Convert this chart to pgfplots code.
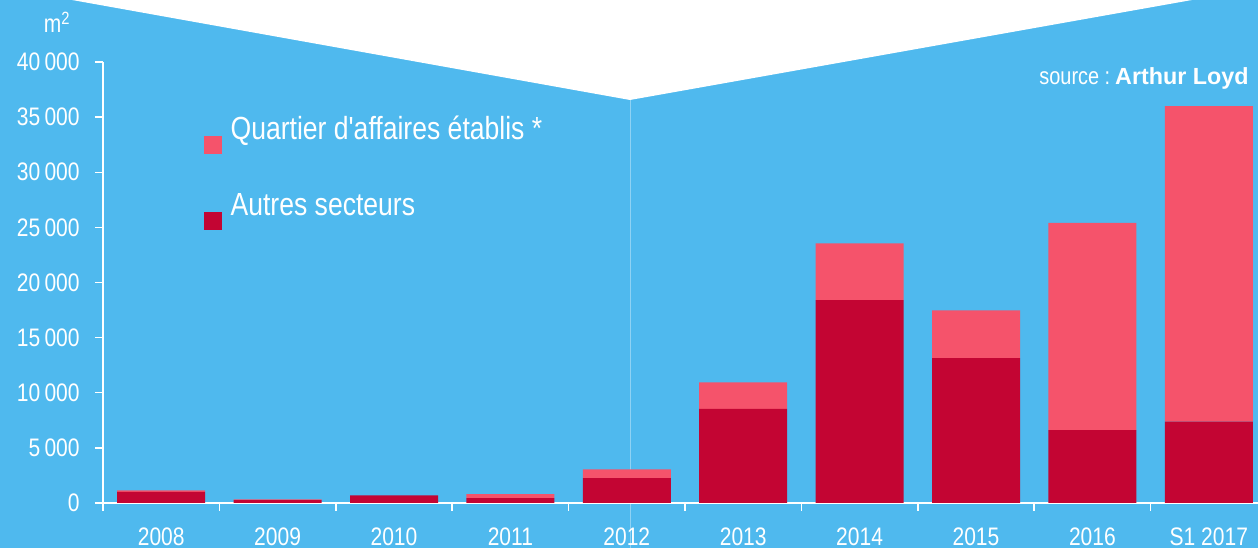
\documentclass[border=0pt]{standalone}
\usepackage{pgfplots}
\pgfplotsset{compat=1.18}
\usepackage{fontspec}
\setmainfont{Liberation Sans}
\newfontfamily\cond[FakeStretch=0.83]{Liberation Sans}
\definecolor{bgblue}{HTML}{4FB9EE}
\definecolor{pinkq}{HTML}{F5536B}
\definecolor{darkr}{HTML}{C30533}
\definecolor{vline}{HTML}{8ED2F4}
\begin{document}
\begin{tikzpicture}
\useasboundingbox (0,0) rectangle (943.5pt,411pt);
\fill[bgblue] (0,0) rectangle (943.5pt,411pt);
\fill[white] (54pt,411pt) -- (472.5pt,336pt) -- (894pt,411pt) -- cycle;
\draw[vline, line width=0.6pt] (472.5pt,336pt) -- (472.5pt,0pt);
\begin{axis}[
  at={(77.25pt,33.75pt)}, anchor=south west,
  scale only axis, width=866.25pt, height=330.75pt,
  xmin=-0.5, xmax=9.4227, ymin=0, ymax=40000,
  axis lines*=left,
  axis line style={white, line width=1.1pt},
  ybar stacked, bar width=0.756,
  ytick={0,5000,...,40000},
  scaled y ticks=false,
  tick align=outside,
  major tick length=6pt,
  tick style={white, line width=1.1pt},
  xtick={-0.5,0.5,...,9.5}, xticklabels={,,,,,,,,,,,},
  extra x ticks={0,1,2,3,4,5,6,7,8,9},
  extra x tick labels={2008,2009,2010,2011,2012,2013,2014,2015,2016,S1 2017},
  extra x tick style={major tick length=0pt},
  ticklabel style={font=\cond\fontsize{19}{22}\selectfont, text=white},
  /pgf/number format/assume math mode=true,
  /pgf/number format/1000 sep={\,},
  yticklabel style={anchor=east, xshift=-8pt},
  xticklabel style={anchor=north, yshift=-15pt},
  reverse legend,
  legend image code/.code={\fill[#1] (0pt,-10.7pt) rectangle (13.3pt,2.6pt);},
  legend style={at={(rel axis cs:0.0874,0.884)}, anchor=north west, draw=none, fill=none,
    text=white, font=\cond\fontsize{24}{28}\selectfont, inner sep=0pt,
    row sep=27.5pt, column sep=4.5pt,
    nodes={inner sep=2pt},
    /tikz/every odd column/.style={yshift=-8pt}},
  legend cell align=left,
]
\addplot[fill=darkr, draw=none] coordinates {(0,1000) (1,250) (2,700) (3,450) (4,2250) (5,8530) (6,18400) (7,13150) (8,6600) (9,7370)};
\addlegendentry{Autres secteurs}
\addplot[fill=pinkq, draw=none] coordinates {(0,150) (1,80) (2,0) (3,350) (4,800) (5,2420) (6,5150) (7,4330) (8,18800) (9,28630)};
\addlegendentry{Quartier d'affaires établis *}
\end{axis}
\node[anchor=base, text=white, font=\cond\fontsize{19}{22}\selectfont] at (42.75pt,386.25pt) {m\textsuperscript{2}};
\node[anchor=base east, text=white, inner sep=0pt] at (936.75pt,347.25pt) {{\cond\fontsize{18}{22}\selectfont source :} {\fontsize{17.5}{22}\selectfont\bfseries Arthur Loyd}};
\end{tikzpicture}
\end{document}
